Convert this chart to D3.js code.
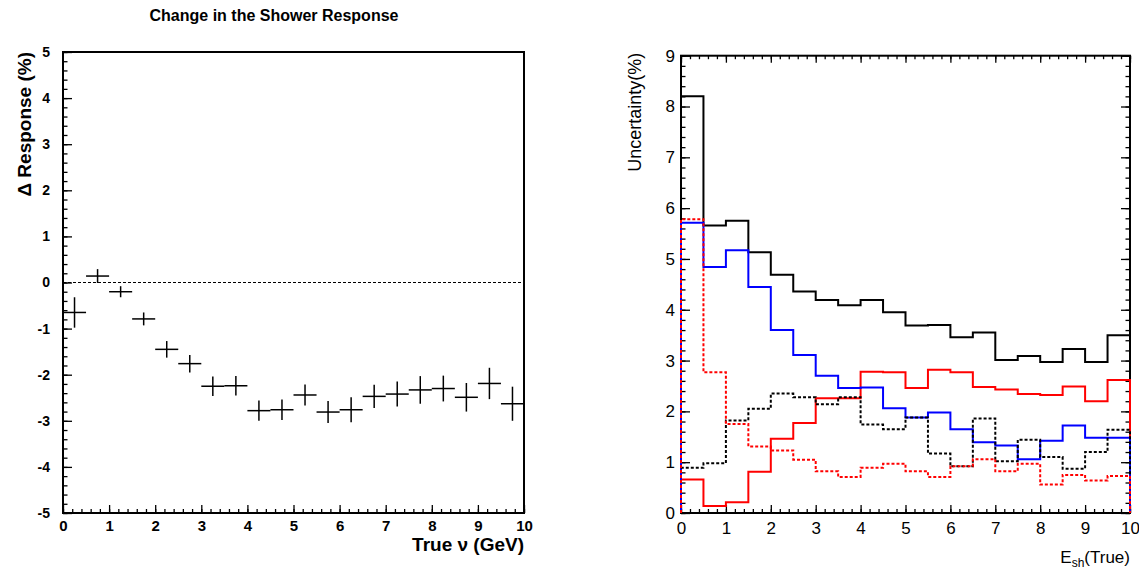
<!DOCTYPE html>
<html>
<head>
<meta charset="utf-8">
<script src="https://cdn.jsdelivr.net/npm/d3@7"></script>
<style>
  body { margin: 0; background: #fff; }
  svg { display: block; font-family: "Liberation Sans", Arial, sans-serif; }
</style>
</head>
<body>
<div id="chart"></div>
<script>
// ---- data ----
// left panel: change in shower response, 20 bins of 0.5 GeV
var respBinCenters = [0.25, 0.75, 1.25, 1.75, 2.25, 2.75, 3.25, 3.75, 4.25, 4.75,
                      5.25, 5.75, 6.25, 6.75, 7.25, 7.75, 8.25, 8.75, 9.25, 9.75];
var respValues = [-0.65, 0.14, -0.20, -0.79, -1.45, -1.76, -2.25, -2.24, -2.78, -2.76,
                  -2.44, -2.81, -2.76, -2.47, -2.42, -2.33, -2.30, -2.49, -2.19, -2.63];
var respErrors = [0.33, 0.15, 0.12, 0.14, 0.18, 0.19, 0.21, 0.21, 0.22, 0.22,
                  0.23, 0.24, 0.27, 0.25, 0.27, 0.30, 0.28, 0.31, 0.34, 0.37];

// right panel: uncertainties (%), bin low edges
var binEdges = [0, 0.5, 1, 1.5, 2, 2.5, 3, 3.5, 4, 4.5, 5, 5.5, 6, 6.5, 7, 7.5, 8, 8.5, 9, 9.5];
var uncTotal = [8.2, 5.66, 5.75, 5.13, 4.69, 4.36, 4.19, 4.09, 4.19, 3.95,
                3.69, 3.70, 3.46, 3.55, 3.01, 3.09, 2.97, 3.23, 2.97, 3.50];
var uncRed   = [0.66, 0.14, 0.21, 0.81, 1.46, 1.77, 2.26, 2.26, 2.78, 2.77,
                2.46, 2.82, 2.77, 2.48, 2.43, 2.34, 2.32, 2.49, 2.20, 2.62];
var uncBlue  = [5.71, 4.84, 5.17, 4.45, 3.60, 3.11, 2.70, 2.46, 2.47, 2.06,
                1.88, 1.98, 1.65, 1.39, 1.33, 1.06, 1.42, 1.72, 1.48, 1.48];
var uncBlackDash = [0.89, 0.98, 1.82, 2.05, 2.35, 2.28, 2.14, 2.28, 1.74, 1.65,
                    1.88, 1.17, 0.92, 1.86, 1.02, 1.44, 1.10, 0.87, 1.20, 1.64];
var uncRedDash = [5.78, 2.77, 1.75, 1.31, 1.23, 1.05, 0.82, 0.71, 0.89, 0.97,
                  0.82, 0.71, 0.92, 1.06, 0.82, 0.97, 0.56, 0.75, 0.64, 0.73];

var xTicks = d3.range(0, 11);
var xMinor = d3.range(0, 10.01, 0.2);

var svg = d3.select("#chart").append("svg")
    .attr("width", 1139)
    .attr("height", 569);

svg.append("rect").attr("width", 1139).attr("height", 569).attr("fill", "#fff");

// ================= left panel =================
var xL = d3.scaleLinear().domain([0, 10]).range([63, 524]);
var yL = d3.scaleLinear().domain([-5, 5]).range([513, 52]);

var left = svg.append("g");

// minor ticks
left.append("g")
    .attr("transform", "translate(0," + yL(-5) + ")")
    .call(d3.axisBottom(xL).tickValues(xMinor).tickSize(-4).tickFormat(""))
    .call(function(g) { g.select(".domain").remove(); });
left.append("g")
    .attr("transform", "translate(" + xL(0) + ",0)")
    .call(d3.axisLeft(yL).tickValues(d3.range(-5, 5.01, 0.2)).tickSize(-4.5).tickFormat(""))
    .call(function(g) { g.select(".domain").remove(); });

// major ticks with labels
left.append("g")
    .attr("class", "lx")
    .attr("transform", "translate(0," + yL(-5) + ")")
    .call(d3.axisBottom(xL).tickValues(xTicks).tickSize(-8).tickPadding(7).tickFormat(d3.format("d")))
    .call(function(g) { g.select(".domain").remove(); });
left.append("g")
    .attr("class", "ly")
    .attr("transform", "translate(" + xL(0) + ",0)")
    .call(d3.axisLeft(yL).tickValues(d3.range(-5, 6)).tickSize(-9).tickPadding(13)
          .tickFormat(function(d) { return d < 0 ? "-" + Math.abs(d) : d; }))
    .call(function(g) { g.select(".domain").remove(); });

left.selectAll(".tick line").attr("stroke", "#000").attr("stroke-width", 1.3);
left.selectAll(".lx text").style("font-size", "15px").style("font-weight", "bold").attr("fill", "#000");
left.selectAll(".ly text").style("font-size", "14px").style("font-weight", "bold").attr("fill", "#000");

// frame
left.append("rect")
    .attr("x", xL(0)).attr("y", yL(5))
    .attr("width", xL(10) - xL(0)).attr("height", yL(-5) - yL(5))
    .attr("fill", "none").attr("stroke", "#000").attr("stroke-width", 2);

// zero line
left.append("line")
    .attr("x1", xL(0)).attr("x2", xL(10))
    .attr("y1", yL(0)).attr("y2", yL(0))
    .attr("stroke", "#000").attr("stroke-width", 1.2)
    .attr("stroke-dasharray", "3,2");

// points with error bars
var pts = left.selectAll(".pt")
    .data(respValues)
    .enter().append("g").attr("class", "pt");
pts.append("line")
    .attr("x1", function(d, i) { return xL(respBinCenters[i] - 0.25); })
    .attr("x2", function(d, i) { return xL(respBinCenters[i] + 0.25); })
    .attr("y1", function(d) { return yL(d); })
    .attr("y2", function(d) { return yL(d); })
    .attr("stroke", "#000").attr("stroke-width", 1.5);
pts.append("line")
    .attr("x1", function(d, i) { return xL(respBinCenters[i]); })
    .attr("x2", function(d, i) { return xL(respBinCenters[i]); })
    .attr("y1", function(d, i) { return yL(d - respErrors[i]); })
    .attr("y2", function(d, i) { return yL(d + respErrors[i]); })
    .attr("stroke", "#000").attr("stroke-width", 1.5);

// titles
svg.append("text")
    .attr("x", 274).attr("y", 21)
    .attr("text-anchor", "middle")
    .style("font-size", "16px").style("font-weight", "bold")
    .text("Change in the Shower Response");

svg.append("text")
    .attr("transform", "translate(31," + yL(5) + ") rotate(-90)")
    .attr("text-anchor", "end")
    .style("font-size", "19px").style("font-weight", "bold")
    .text("\u0394 Response (%)");

svg.append("text")
    .attr("x", xL(10)).attr("y", 551)
    .attr("text-anchor", "end")
    .style("font-size", "19px").style("font-weight", "bold")
    .text("True \u03BD (GeV)");

// ================= right panel =================
var xR = d3.scaleLinear().domain([0, 10]).range([681, 1130]);
var yR = d3.scaleLinear().domain([0, 9]).range([513, 55.7]);

var right = svg.append("g");

right.append("rect")
    .attr("x", xR(0)).attr("y", yR(9))
    .attr("width", xR(10) - xR(0)).attr("height", yR(0) - yR(9))
    .attr("fill", "none").attr("stroke", "#000").attr("stroke-width", 2);

var yMinorR = d3.range(0, 9.01, 0.2);
var noDomain = function(g) { g.select(".domain").remove(); };

// bottom
right.append("g").attr("transform", "translate(0," + yR(0) + ")")
    .call(d3.axisBottom(xR).tickValues(xMinor).tickSize(-4).tickFormat("")).call(noDomain);
right.append("g").attr("class", "rx").attr("transform", "translate(0," + yR(0) + ")")
    .call(d3.axisBottom(xR).tickValues(xTicks).tickSize(-8).tickPadding(9).tickFormat(d3.format("d"))).call(noDomain);
// top
right.append("g").attr("transform", "translate(0," + yR(9) + ")")
    .call(d3.axisTop(xR).tickValues(xMinor).tickSize(-3.5).tickFormat("")).call(noDomain);
right.append("g").attr("transform", "translate(0," + yR(9) + ")")
    .call(d3.axisTop(xR).tickValues(xTicks).tickSize(-7).tickFormat("")).call(noDomain);
// left
right.append("g").attr("transform", "translate(" + xR(0) + ",0)")
    .call(d3.axisLeft(yR).tickValues(yMinorR).tickSize(-4.5).tickFormat("")).call(noDomain);
right.append("g").attr("class", "ry").attr("transform", "translate(" + xR(0) + ",0)")
    .call(d3.axisLeft(yR).tickValues(d3.range(0, 10)).tickSize(-9).tickPadding(6).tickFormat(d3.format("d"))).call(noDomain);
// right
right.append("g").attr("transform", "translate(" + xR(10) + ",0)")
    .call(d3.axisRight(yR).tickValues(yMinorR).tickSize(-4.5).tickFormat("")).call(noDomain);
right.append("g").attr("transform", "translate(" + xR(10) + ",0)")
    .call(d3.axisRight(yR).tickValues(d3.range(0, 10)).tickSize(-9).tickFormat("")).call(noDomain);

right.selectAll(".tick line").attr("stroke", "#000").attr("stroke-width", 1.3);
right.selectAll(".rx text, .ry text").style("font-size", "17px").attr("fill", "#000");

// histograms
var step = d3.line()
    .x(function(d) { return xR(d[0]); })
    .y(function(d) { return yR(d[1]); })
    .curve(d3.curveStepAfter);

function histPoints(vals) {
  var p = [[0, 0]];
  vals.forEach(function(v, i) { p.push([binEdges[i], v]); });
  p.push([10, 0]);
  return p;
}

var series = [
  {vals: uncTotal, color: "#000", dash: null},
  {vals: uncRed, color: "#ff0000", dash: null},
  {vals: uncBlue, color: "#0000ff", dash: null},
  {vals: uncBlackDash, color: "#000", dash: "3,2"},
  {vals: uncRedDash, color: "#ff0000", dash: "3,2"}
];

right.selectAll(".hist")
    .data(series)
    .enter().append("path")
    .attr("class", "hist")
    .attr("d", function(s) { return step(histPoints(s.vals)); })
    .attr("fill", "none")
    .attr("stroke", function(s) { return s.color; })
    .attr("stroke-width", 2)
    .attr("stroke-dasharray", function(s) { return s.dash; });

svg.append("text")
    .attr("transform", "translate(641," + (yR(9) - 3) + ") rotate(-90)")
    .attr("text-anchor", "end")
    .style("font-size", "18px")
    .text("Uncertainty(%)");

var et = svg.append("text")
    .attr("x", xR(10)).attr("y", 563)
    .attr("text-anchor", "end")
    .style("font-size", "17px");
et.append("tspan").text("E");
et.append("tspan").attr("dy", 4).style("font-size", "12px").text("sh");
et.append("tspan").attr("dy", -4).text("(True)");
</script>
</body>
</html>
